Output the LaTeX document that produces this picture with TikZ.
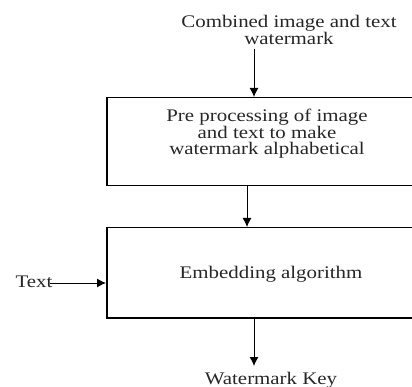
\documentclass[tikz,border=0pt]{standalone}
\usepackage{fontspec}
\setmainfont[FakeStretch=1.18]{Liberation Serif}
\usetikzlibrary{arrows.meta}
\begin{document}
\begin{tikzpicture}[x=1pt,y=-1pt,
  box/.style={draw=black,line width=1.5pt,minimum width=307pt,minimum height=88pt,inner sep=0pt},
  lbl/.style={font=\fontsize{17.7}{16.6}\selectfont,align=center,inner sep=0pt,text=black!85},
  arr/.style={-{Latex[length=9pt,width=9pt]},line width=1pt}]
\useasboundingbox (0,0) rectangle (412,387);
\clip (0,0) rectangle (412,387);
\coordinate (xa) at (254,0);
\coordinate (xb) at (247,0);
\node[lbl] (top) at (289,30) {Combined image and text\\watermark};
\node[box,anchor=north west] (b1) at (106,97) {};
\node[lbl] (t1) at (267,134) {Pre processing of image\\and text to make\\watermark alphabetical};
\node[box,anchor=north west,minimum height=90pt] (b2) at (106,227) {};
\node[lbl] (t2) at (271,274) {Embedding algorithm};
\node[lbl] (txt) at (34,282) {Text};
\node[lbl] (wk) at (271,380) {Watermark Key};
\coordinate (txtend) at (50,283);
\coordinate (xyb) at (0,283);
\coordinate (wkt) at (254,366);
\draw[arr] (top.south -| xa) ++(0,4) -- (b1.north -| xa);
\draw[arr] (b1.south -| xb) -- (b2.north -| xb);
\draw[arr] (txtend) -- (b2.west |- xyb);
\draw[arr] (b2.south -| xa) -- (wkt);
\end{tikzpicture}
\end{document}
